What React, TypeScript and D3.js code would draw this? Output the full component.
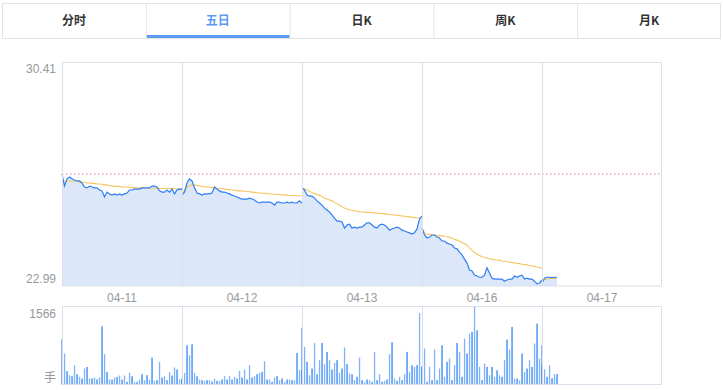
import React from 'react';
import * as d3 from 'd3';

// tab labels and dates
const tabs = ['分时', '五日', '日K', '周K', '月K'];
const activeTab = 1;
const dates = ['04-11', '04-12', '04-13', '04-16', '04-17'];

const priceMax = 30.41;
const priceMin = 22.99;
const prevClose = 26.70;
const volMax = 1566;

// price every 5 minutes, one array per day
const price1 = [26.70,26.30,26.54,26.60,26.54,26.50,26.47,26.47,26.40,26.27,26.24,26.30,26.27,26.24,26.24,26.17,26.14,25.94,26.10,26.04,26.00,26.04,26.00,26.04,26.00,26.04,26.07,26.17,26.17,26.20,26.20,26.20,26.24,26.24,26.24,26.24,26.30,26.30,26.27,26.14,26.10,26.10,26.17,26.10,26.20,26.04,26.17,26.20,26.20];
const price2 = [26.00,26.10,26.40,26.54,26.47,26.24,26.07,26.04,26.00,26.04,26.04,26.04,26.07,26.27,26.20,26.14,26.10,26.10,26.07,26.04,26.00,25.97,25.94,25.90,25.87,25.87,25.87,25.90,25.87,25.84,25.77,25.74,25.77,25.77,25.77,25.77,25.74,25.67,25.77,25.77,25.74,25.74,25.77,25.74,25.77,25.74,25.74,25.81,25.74];
const price3 = [26.24,26.17,26.00,25.97,25.97,25.90,25.81,25.74,25.67,25.57,25.51,25.44,25.34,25.24,25.14,25.14,25.11,24.91,25.01,25.04,24.91,24.94,24.91,24.94,24.94,25.01,25.08,25.08,25.01,24.94,24.91,25.01,25.04,25.01,24.94,24.84,24.88,24.91,24.94,24.91,24.84,24.81,24.78,24.75,24.71,24.75,24.88,25.21,25.31];
const price4 = [24.91,24.68,24.58,24.61,24.68,24.68,24.61,24.58,24.48,24.48,24.41,24.38,24.35,24.25,24.22,24.11,24.02,23.88,23.75,23.52,23.49,23.35,23.32,23.28,23.28,23.35,23.59,23.42,23.25,23.22,23.22,23.22,23.22,23.15,23.19,23.22,23.22,23.32,23.28,23.32,23.35,23.22,23.25,23.22,23.22,23.15,23.06,23.09,23.19];
const price5 = [23.09,23.25,23.28,23.28,23.27,23.28,23.28];

// average price
const avg1 = [26.40,26.44,26.47,26.47,26.47,26.47,26.45,26.44,26.44,26.42,26.40,26.40,26.39,26.39,26.37,26.37,26.36,26.34,26.34,26.32,26.30,26.30,26.29,26.29,26.27,26.27,26.26,26.26,26.25,26.25,26.24,26.24,26.24,26.23,26.23,26.23,26.23,26.23,26.23,26.22,26.22,26.22,26.22,26.22,26.22,26.21,26.21,26.20,26.20];
const avg2 = [26.00,26.17,26.27,26.30,26.34,26.34,26.32,26.30,26.29,26.28,26.27,26.26,26.25,26.24,26.23,26.22,26.21,26.20,26.19,26.18,26.17,26.16,26.15,26.14,26.14,26.13,26.12,26.11,26.10,26.09,26.08,26.07,26.06,26.06,26.05,26.04,26.04,26.03,26.02,26.02,26.01,26.00,26.00,25.99,25.99,25.99,25.98,25.98,25.98];
const avg3 = [26.24,26.20,26.17,26.12,26.09,26.05,26.02,26.00,25.95,25.90,25.87,25.84,25.81,25.76,25.71,25.67,25.62,25.57,25.54,25.51,25.50,25.48,25.47,25.45,25.44,25.44,25.43,25.43,25.42,25.41,25.40,25.40,25.39,25.38,25.37,25.36,25.35,25.34,25.33,25.32,25.31,25.30,25.29,25.28,25.27,25.26,25.25,25.24,25.23];
const avg4 = [24.91,24.75,24.70,24.70,24.69,24.68,24.67,24.66,24.65,24.63,24.62,24.60,24.57,24.54,24.51,24.47,24.43,24.39,24.34,24.25,24.17,24.10,24.04,24.00,23.96,23.94,23.92,23.89,23.88,23.86,23.85,23.84,23.82,23.81,23.80,23.78,23.77,23.76,23.74,23.73,23.71,23.70,23.69,23.67,23.66,23.64,23.62,23.60,23.58];
const avg5 = [23.15,23.20,23.22,23.24,23.24,23.24,23.25];

// volume (手)
const vol1 = [914,625,269,188,168,390,208,155,121,323,356,121,121,141,101,141,1176,612,255,101,101,141,155,181,101,181,54,235,168,54,54,101,208,87,188,101,544,74,87,457,141,168,87,249,181,343,302,101,121];
const vol2 = [108,235,793,591,813,235,168,101,87,74,87,87,60,121,74,74,101,168,101,168,101,155,121,276,141,302,101,390,141,168,208,235,255,470,101,101,54,141,168,87,121,54,101,101,87,87,638,289,289];
const vol3 = [1150,759,457,188,323,840,208,491,840,410,659,491,302,437,491,235,323,746,410,222,208,87,155,544,87,54,101,87,54,659,87,208,54,74,101,612,853,121,74,155,87,208,659,255,390,356,390,1445,356];
const vol4 = [370,726,54,356,87,706,87,323,793,155,457,524,87,390,840,659,155,927,625,1028,1062,1566,1095,356,87,423,356,188,356,155,289,188,155,491,907,706,1163,121,121,87,625,255,323,491,356,827,1230,524,793];
const vol5 = [389,309,153,389,127,208,208];

const prices = [price1, price2, price3, price4, price5];
const avgs = [avg1, avg2, avg3, avg4, avg5];
const vols = [vol1, vol2, vol3, vol4, vol5];

const W = 723;
const H = 390;
const left = 62;
const right = 662;
const pTop = 62;
const pBottom = 286;
const vTop = 307;
const vBottom = 384.5;
const stepsPerDay = 48;

const gridColor = '#d9e0ea';
const textColor = '#999';
const numFont = '"Liberation Sans", Arial, sans-serif';
const cjkFont = '"Noto Sans CJK SC", "Microsoft YaHei", sans-serif';

export default function App() {
  const xDay = d3.scaleBand<string>().domain(dates).range([left, right]);
  const xStep = d3.scaleLinear().domain([0, stepsPerDay]).range([0, xDay.bandwidth()]);
  const y = d3.scaleLinear().domain([priceMin, priceMax]).range([pBottom, pTop]);
  const yVol = d3.scaleLinear().domain([0, volMax]).range([vBottom, vTop]);

  const tabW = (W - 4) / tabs.length;

  return (
    <svg width={W} height={H} style={{ position: 'absolute', left: 0, top: 0, background: '#fff' }}>
      {/* tabs */}
      <rect x={2.5} y={3.5} width={W - 5} height={35} fill="#fff" stroke="#e3e3e3" />
      {tabs.map((t, i) => {
        const x0 = 2 + i * tabW;
        return (
          <g key={t}>
            {i > 0 && <line x1={x0 + 0.5} x2={x0 + 0.5} y1={4} y2={38} stroke="#e3e3e3" />}
            {i === activeTab && <rect x={x0 + 1} y={35} width={tabW - 1} height={3} fill="#5b9cf2" />}
            <text x={x0 + tabW / 2} y={25} textAnchor="middle" fontSize={12} fontWeight="bold"
              fontFamily={cjkFont} fill={i === activeTab ? '#5b9cf2' : '#333'}>{t}</text>
          </g>
        );
      })}

      {/* price chart */}
      {dates.map((d, di) => {
        const x0 = xDay(d) as number;
        const ps = prices[di];
        const as = avgs[di];
        const area = d3.area<number>()
          .x((_, i) => x0 + xStep(i))
          .y0(pBottom)
          .y1((v) => y(v));
        const line = d3.line<number>()
          .x((_, i) => x0 + xStep(i))
          .y((v) => y(v));
        return (
          <g key={d}>
            <path d={area(ps) || ''} fill="#dce8fa" />
            <path d={line(as) || ''} fill="none" stroke="#f6c35f" strokeWidth={1.1} />
            <path d={line(ps) || ''} fill="none" stroke="#2f7df4" strokeWidth={1.2} />
          </g>
        );
      })}
      <line x1={left} x2={right} y1={y(prevClose)} y2={y(prevClose)}
        stroke="#f4a3a3" strokeWidth={1.5} strokeDasharray="1.5,2.5" />
      {dates.slice(1).map((d) => (
        <line key={d} x1={(xDay(d) as number) + 0.5} x2={(xDay(d) as number) + 0.5}
          y1={pTop} y2={pBottom} stroke={gridColor} />
      ))}
      <rect x={left + 0.5} y={pTop + 0.5} width={right - left - 1} height={pBottom - pTop - 0.5}
        fill="none" stroke={gridColor} />
      <text x={56} y={73} textAnchor="end" fontSize={12} fontFamily={numFont} fill={textColor}>
        {priceMax.toFixed(2)}
      </text>
      <text x={56} y={283} textAnchor="end" fontSize={12} fontFamily={numFont} fill={textColor}>
        {priceMin.toFixed(2)}
      </text>
      {dates.map((d) => (
        <text key={d} x={(xDay(d) as number) + xDay.bandwidth() / 2} y={302} textAnchor="middle"
          fontSize={12} fontFamily={numFont} fill={textColor}>{d}</text>
      ))}

      {/* volume chart */}
      {dates.map((d, di) => {
        const x0 = xDay(d) as number;
        return (
          <g key={d}>
            {vols[di].map((v, i) => (
              <rect key={i} x={x0 + xStep(i) - 0.6} y={yVol(v)} width={1.3}
                height={vBottom - yVol(v)} fill={i % 2 ? '#7fb2f8' : '#3386f5'} />
            ))}
          </g>
        );
      })}
      {dates.slice(1).map((d) => (
        <line key={d} x1={(xDay(d) as number) + 0.5} x2={(xDay(d) as number) + 0.5}
          y1={vTop} y2={vBottom} stroke={gridColor} />
      ))}
      <rect x={left + 0.5} y={vTop - 0.5} width={right - left - 1} height={vBottom - vTop + 0.5}
        fill="none" stroke={gridColor} />
      <text x={56} y={318} textAnchor="end" fontSize={12} fontFamily={numFont} fill={textColor}>
        {volMax}
      </text>
      <text x={56} y={382} textAnchor="end" fontSize={12} fontFamily={cjkFont} fill={textColor}>手</text>
    </svg>
  );
}
